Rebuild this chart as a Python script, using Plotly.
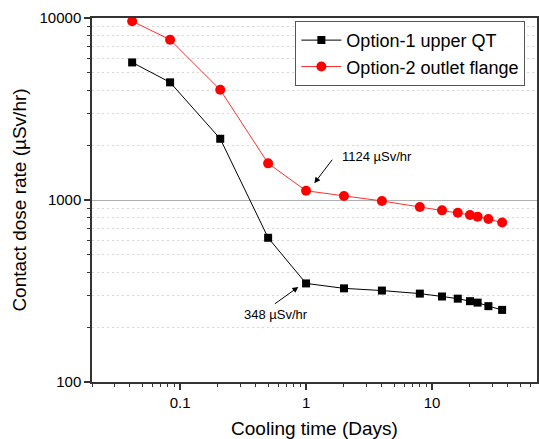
import numpy as np
import plotly.graph_objects as go

# Data
cooling_days = [1/24, 2/24, 5/24, 0.5, 1, 2, 4, 8, 12, 16, 20, 23, 28, 36]
option1_upper_qt = [5700, 4430, 2170, 620, 348, 327, 318, 306, 295, 287, 278, 273, 261, 249]
option2_outlet_flange = [9600, 7600, 4030, 1590, 1124, 1052, 988, 915, 877, 851, 828, 810, 786, 752]
series_names = ["Option-1 upper QT", "Option-2 outlet flange"]
x_tick_vals = [0.1, 1, 10]
x_tick_text = ["0.1", "1", "10"]
y_tick_vals = [100, 1000, 10000]
y_tick_text = ["100", "1000", "10000"]

FONT = "Arial, Liberation Sans, sans-serif"

fig = go.Figure()
fig.add_trace(go.Scatter(
    x=cooling_days, y=option1_upper_qt, name=series_names[0],
    mode="lines+markers",
    line=dict(color="black", width=1),
    marker=dict(symbol="square", size=8, color="black"),
))
fig.add_trace(go.Scatter(
    x=cooling_days, y=option2_outlet_flange, name=series_names[1],
    mode="lines+markers",
    line=dict(color="#ff3030", width=1),
    marker=dict(symbol="circle", size=10, color="#ff0000"),
))

fig.update_xaxes(
    type="log", range=[np.log10(0.02), 1.833],
    tickvals=x_tick_vals, ticktext=x_tick_text,
    ticks="outside", ticklen=6, tickwidth=1.5, tickcolor="#333",
    minor=dict(ticks="outside", ticklen=3, tickwidth=1.2, tickcolor="#333", dtick="D1", showgrid=False),
    showline=True, linecolor="#333", linewidth=1.5, mirror=True,
    showgrid=False, zeroline=False,
    tickfont=dict(family=FONT, size=15, color="black"),
    title=dict(text="Cooling time (Days)", font=dict(family=FONT, size=19, color="black"), standoff=12),
)
fig.update_yaxes(
    type="log", range=[2, 4],
    tickvals=y_tick_vals, ticktext=y_tick_text,
    ticks="outside", ticklen=6, tickwidth=1.5, tickcolor="#333",
    minor=dict(ticks="outside", ticklen=3, tickwidth=1.2, tickcolor="#333", dtick="D1",
               showgrid=True, gridcolor="#d8d8d8", griddash="2px,3px", gridwidth=1),
    showline=True, linecolor="#333", linewidth=1.5, mirror=True,
    showgrid=True, gridcolor="#b0b0b0", gridwidth=1, zeroline=False,
    tickfont=dict(family=FONT, size=15, color="black"),
    title=dict(text="Contact dose rate (µSv/hr)", font=dict(family=FONT, size=19, color="black"), standoff=8),
)

# Annotations (arrows and labels)
fig.add_annotation(x=np.log10(1.163), y=np.log10(1236), text="", showarrow=True,
                   ax=19, ay=-25, arrowhead=2, arrowsize=1.2, arrowwidth=1, arrowcolor="black")
fig.add_annotation(x=np.log10(1.855), y=np.log10(1730), text="1124 µSv/hr", showarrow=False,
                   xanchor="left", yanchor="middle", font=dict(family=FONT, size=13, color="black"))
fig.add_annotation(x=np.log10(0.869), y=np.log10(333), text="", showarrow=True,
                   ax=-25, ay=18, arrowhead=2, arrowsize=1.2, arrowwidth=1, arrowcolor="black")
fig.add_annotation(x=np.log10(0.3126), y=np.log10(236), text="348 µSv/hr", showarrow=False,
                   xanchor="left", yanchor="middle", font=dict(family=FONT, size=13, color="black"))

fig.update_layout(
    width=539, height=439,
    margin=dict(l=92, r=0, t=18, b=57),
    paper_bgcolor="white", plot_bgcolor="white",
    showlegend=True,
    legend=dict(x=0.457, y=0.992, xanchor="left", yanchor="top",
                bgcolor="white", bordercolor="#555", borderwidth=1,
                font=dict(family=FONT, size=18, color="black"),
                tracegroupgap=0, itemwidth=40),
)

fig.write_html("out.html")
